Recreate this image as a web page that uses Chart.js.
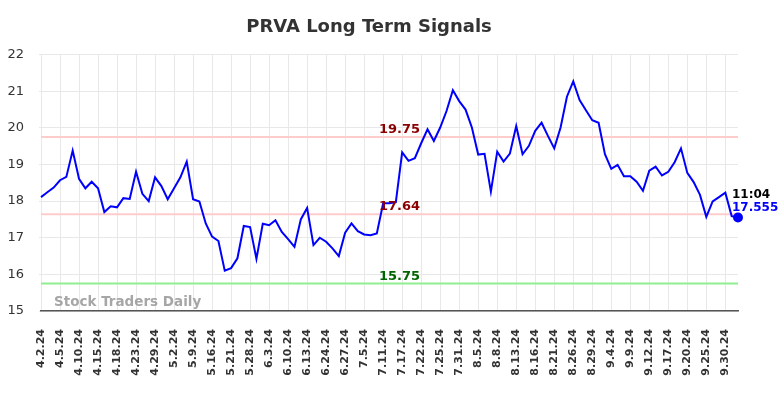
<!DOCTYPE html>
<html>
<head>
<meta charset="utf-8">
<title>PRVA Long Term Signals</title>
<script src="https://cdn.jsdelivr.net/npm/chart.js@4.4.1/dist/chart.umd.min.js"></script>
<style>
  body { margin: 0; background: #fff; }
  #wrap { width: 784px; height: 398px; }
</style>
</head>
<body>
<div id="wrap"><canvas id="signalChart" width="784" height="398"></canvas></div>
<script>
// Tick labels (one every 3 sessions)
const tickLabels = ['4.2.24', '4.5.24', '4.10.24', '4.15.24', '4.18.24', '4.23.24', '4.29.24',
    '5.2.24', '5.9.24', '5.16.24', '5.21.24', '5.28.24', '6.3.24', '6.10.24', '6.13.24',
    '6.24.24', '6.27.24', '7.5.24', '7.11.24', '7.17.24', '7.22.24', '7.25.24', '7.31.24',
    '8.5.24', '8.8.24', '8.13.24', '8.16.24', '8.21.24', '8.26.24', '8.29.24', '9.4.24',
    '9.9.24', '9.12.24', '9.17.24', '9.20.24', '9.25.24', '9.30.24'];

// Closing prices
const prices = [
    18.11, 18.24, 18.37, 18.57, 18.66, 19.38, 18.61, 18.35, 18.53, 18.35,
    17.70, 17.86, 17.83, 18.08, 18.06, 18.80, 18.20, 18.00, 18.65, 18.41,
    18.05, 18.35, 18.65, 19.08, 18.05, 17.99, 17.39, 17.03, 16.91, 16.10,
    16.17, 16.44, 17.32, 17.29, 16.42, 17.38, 17.34, 17.48, 17.16, 16.96,
    16.75, 17.50, 17.81, 16.80, 17.00, 16.89, 16.71, 16.50, 17.14, 17.39,
    17.18, 17.09, 17.07, 17.12, 17.94, 17.94, 17.97, 19.33, 19.10, 19.17,
    19.58, 19.96, 19.64, 20.01, 20.46, 21.03, 20.73, 20.50, 20.01, 19.27,
    19.29, 18.26, 19.35, 19.08, 19.30, 20.05, 19.28, 19.51, 19.92, 20.14,
    19.78, 19.44, 20.01, 20.85, 21.27, 20.76, 20.48, 20.21, 20.14, 19.28,
    18.88, 18.99, 18.68, 18.68, 18.53, 18.28, 18.83, 18.94, 18.70, 18.80,
    19.06, 19.44, 18.77, 18.52, 18.17, 17.57, 17.99, 18.11, 18.23, 17.59,
    17.555
];

// Signal levels
const levelValues = [19.75, 17.64, 15.75];
const levelLines = ['#ffcccc', '#ffcccc', '#90ee90'];
const levelText = ['#8b0000', '#8b0000', '#006400'];

const lastTime = '11:04';

// Build category labels: tick label then two unlabeled sessions
const labels = [];
tickLabels.forEach(t => { labels.push(t, '', ''); });

const FONT = "'DejaVu Sans', sans-serif";

// Draw signal lines, their labels, watermark and last-value tag
const overlayPlugin = {
    id: 'overlay',
    beforeDatasetsDraw(chart) {
        const { ctx, chartArea, scales } = chart;
        ctx.save();
        levelValues.forEach((v, i) => {
            const y = scales.y.getPixelForValue(v);
            ctx.strokeStyle = levelLines[i];
            ctx.lineWidth = 2;
            ctx.beginPath();
            ctx.moveTo(chartArea.left, y);
            ctx.lineTo(chartArea.right, y);
            ctx.stroke();
        });
        ctx.font = 'bold 13.5px ' + FONT;
        ctx.fillStyle = 'rgba(150,150,150,0.85)';
        ctx.textAlign = 'left';
        ctx.textBaseline = 'alphabetic';
        ctx.fillText('Stock Traders Daily', chartArea.left + 13, chartArea.bottom - 5);
        ctx.restore();
    },
    afterDatasetsDraw(chart) {
        const { ctx, chartArea, scales } = chart;
        ctx.save();
        const cx = (chartArea.left + chartArea.right) / 2 + 10;
        ctx.font = 'bold 13px ' + FONT;
        ctx.textAlign = 'center';
        ctx.textBaseline = 'alphabetic';
        levelValues.forEach((v, i) => {
            const y = scales.y.getPixelForValue(v);
            ctx.fillStyle = levelText[i];
            ctx.fillText(v.toFixed(2), cx, y - 4);
        });

        const meta = chart.getDatasetMeta(0);
        const last = meta.data[meta.data.length - 1];
        ctx.textAlign = 'left';
        ctx.font = 'bold 12px ' + FONT;
        ctx.fillStyle = '#000';
        ctx.fillText(lastTime, last.x - 6, last.y - 19);
        ctx.fillStyle = '#0000ff';
        ctx.fillText(String(prices[prices.length - 1]), last.x - 6, last.y - 6);
        ctx.restore();
    }
};

const ctx = document.getElementById('signalChart').getContext('2d');
const signalChart = new Chart(ctx, {
    type: 'line',
    data: {
        labels: labels,
        datasets: [{
            label: 'PRVA',
            data: prices,
            borderColor: '#0000ff',
            backgroundColor: '#0000ff',
            borderWidth: 2,
            tension: 0,
            fill: false,
            pointRadius: c => (c.dataIndex === prices.length - 1 ? 4 : 0),
            pointHoverRadius: 0
        }]
    },
    options: {
        responsive: false,
        animation: false,
        layout: { padding: { left: 0, right: 46, top: 0, bottom: 0 } },
        plugins: {
            legend: { display: false },
            tooltip: { enabled: false },
            title: {
                display: true,
                text: 'PRVA Long Term Signals',
                color: '#333',
                font: { family: FONT, size: 18, weight: 'bold' },
                padding: { top: 17, bottom: 16 }
            }
        },
        scales: {
            x: {
                offset: false,
                border: { display: true, color: '#555', width: 1.5 },
                grid: { color: '#e8e8e8', lineWidth: 1, drawTicks: false },
                ticks: {
                    autoSkip: false,
                    maxRotation: 90,
                    minRotation: 90,
                    padding: 18,
                    color: '#333',
                    font: { family: FONT, size: 11, weight: 'bold' },
                    callback: function (value, index) {
                        const l = labels[index];
                        return l === '' ? null : l;
                    }
                },
                afterFit: scale => { scale.height = 87; }
            },
            y: {
                min: 15,
                max: 22,
                border: { display: false },
                grid: { color: '#e8e8e8', lineWidth: 1, tickLength: 2 },
                ticks: {
                    stepSize: 1,
                    padding: 15,
                    color: '#333',
                    font: { family: FONT, size: 13 }
                },
                afterFit: scale => { scale.width = 41; }
            }
        }
    },
    plugins: [overlayPlugin]
});
</script>
</body>
</html>
